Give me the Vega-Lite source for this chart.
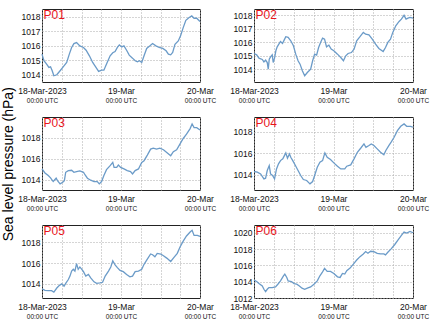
{
"$schema": "https://vega.github.io/schema/vega-lite/v6.json",
"padding": {"left": 2, "top": 8, "right": 5, "bottom": 2},
"title": {"text": "Sea level pressure (hPa)", "orient": "left", "anchor": "middle", "frame": "bounds", "fontSize": 14, "fontWeight": "normal", "font": "Liberation Sans", "color": "#000", "offset": -13, "baseline": "bottom", "dx": 0, "dy": 0},
"datasets": {"d": [
{"s":"P01","h":0,"p":1015.43},{"s":"P01","h":0.6,"p":1014.97},{"s":"P01","h":1.4,"p":1014.74},{"s":"P01","h":2.1,"p":1014.51},{"s":"P01","h":2.6,"p":1014.55},{"s":"P01","h":3.1,"p":1014.28},{"s":"P01","h":3.6,"p":1013.93},{"s":"P01","h":4.5,"p":1014.0},{"s":"P01","h":5.5,"p":1014.28},{"s":"P01","h":6.5,"p":1014.57},{"s":"P01","h":7.5,"p":1014.85},{"s":"P01","h":8.3,"p":1015.43},{"s":"P01","h":9.0,"p":1015.89},{"s":"P01","h":9.7,"p":1016.16},{"s":"P01","h":10.5,"p":1016.23},{"s":"P01","h":11.5,"p":1016.0},{"s":"P01","h":12.6,"p":1015.89},{"s":"P01","h":13.4,"p":1015.7},{"s":"P01","h":14.4,"p":1015.31},{"s":"P01","h":15.4,"p":1014.85},{"s":"P01","h":16.4,"p":1014.51},{"s":"P01","h":17.2,"p":1014.23},{"s":"P01","h":18.1,"p":1014.32},{"s":"P01","h":18.8,"p":1014.32},{"s":"P01","h":19.8,"p":1014.85},{"s":"P01","h":20.7,"p":1015.31},{"s":"P01","h":21.5,"p":1015.52},{"s":"P01","h":22.2,"p":1015.61},{"s":"P01","h":22.9,"p":1015.89},{"s":"P01","h":23.5,"p":1016.07},{"s":"P01","h":24.2,"p":1015.93},{"s":"P01","h":24.9,"p":1016.0},{"s":"P01","h":25.7,"p":1015.7},{"s":"P01","h":26.5,"p":1015.36},{"s":"P01","h":27.5,"p":1015.15},{"s":"P01","h":28.3,"p":1014.97},{"s":"P01","h":29.0,"p":1014.9},{"s":"P01","h":29.6,"p":1014.97},{"s":"P01","h":30.3,"p":1014.85},{"s":"P01","h":31.0,"p":1015.31},{"s":"P01","h":31.8,"p":1015.82},{"s":"P01","h":32.8,"p":1016.0},{"s":"P01","h":33.6,"p":1016.16},{"s":"P01","h":34.6,"p":1016.0},{"s":"P01","h":35.6,"p":1015.89},{"s":"P01","h":36.7,"p":1015.82},{"s":"P01","h":37.7,"p":1015.66},{"s":"P01","h":38.4,"p":1015.43},{"s":"P01","h":39.1,"p":1015.38},{"s":"P01","h":39.7,"p":1015.54},{"s":"P01","h":40.4,"p":1016.11},{"s":"P01","h":41.4,"p":1016.34},{"s":"P01","h":42.1,"p":1016.69},{"s":"P01","h":42.9,"p":1017.26},{"s":"P01","h":43.7,"p":1017.77},{"s":"P01","h":44.6,"p":1017.95},{"s":"P01","h":45.5,"p":1018.07},{"s":"P01","h":46.2,"p":1017.91},{"s":"P01","h":47.0,"p":1017.91},{"s":"P01","h":48,"p":1017.68},
{"s":"P02","h":0,"p":1015.16},{"s":"P02","h":0.8,"p":1015.06},{"s":"P02","h":1.5,"p":1014.81},{"s":"P02","h":2.5,"p":1014.72},{"s":"P02","h":3.0,"p":1014.54},{"s":"P02","h":3.5,"p":1014.67},{"s":"P02","h":4.0,"p":1014.49},{"s":"P02","h":4.3,"p":1014.0},{"s":"P02","h":4.6,"p":1014.74},{"s":"P02","h":5.0,"p":1014.91},{"s":"P02","h":5.5,"p":1015.06},{"s":"P02","h":5.8,"p":1014.49},{"s":"P02","h":6.2,"p":1014.81},{"s":"P02","h":6.6,"p":1015.36},{"s":"P02","h":7.0,"p":1015.65},{"s":"P02","h":7.5,"p":1015.85},{"s":"P02","h":8.0,"p":1016.05},{"s":"P02","h":8.6,"p":1015.9},{"s":"P02","h":9.1,"p":1016.15},{"s":"P02","h":9.6,"p":1016.4},{"s":"P02","h":10.3,"p":1016.35},{"s":"P02","h":11.1,"p":1016.1},{"s":"P02","h":11.9,"p":1015.73},{"s":"P02","h":12.6,"p":1015.11},{"s":"P02","h":13.3,"p":1014.62},{"s":"P02","h":13.9,"p":1014.37},{"s":"P02","h":14.6,"p":1013.88},{"s":"P02","h":15.3,"p":1013.51},{"s":"P02","h":16.1,"p":1013.75},{"s":"P02","h":17.1,"p":1014.0},{"s":"P02","h":17.7,"p":1014.62},{"s":"P02","h":18.3,"p":1015.11},{"s":"P02","h":18.9,"p":1015.04},{"s":"P02","h":19.5,"p":1015.6},{"s":"P02","h":20.1,"p":1015.98},{"s":"P02","h":20.7,"p":1016.3},{"s":"P02","h":21.3,"p":1016.22},{"s":"P02","h":21.9,"p":1015.65},{"s":"P02","h":22.6,"p":1015.78},{"s":"P02","h":23.3,"p":1015.48},{"s":"P02","h":24.1,"p":1015.36},{"s":"P02","h":25.2,"p":1015.11},{"s":"P02","h":26.2,"p":1014.86},{"s":"P02","h":27.0,"p":1014.62},{"s":"P02","h":27.7,"p":1014.99},{"s":"P02","h":28.4,"p":1015.16},{"s":"P02","h":29.4,"p":1015.23},{"s":"P02","h":30.2,"p":1015.48},{"s":"P02","h":31.0,"p":1016.1},{"s":"P02","h":32.0,"p":1016.4},{"s":"P02","h":33.0,"p":1016.72},{"s":"P02","h":33.7,"p":1016.59},{"s":"P02","h":34.7,"p":1016.54},{"s":"P02","h":35.7,"p":1016.22},{"s":"P02","h":36.7,"p":1015.85},{"s":"P02","h":37.7,"p":1015.53},{"s":"P02","h":39.0,"p":1015.31},{"s":"P02","h":39.7,"p":1015.6},{"s":"P02","h":40.4,"p":1015.98},{"s":"P02","h":41.2,"p":1016.22},{"s":"P02","h":41.9,"p":1016.72},{"s":"P02","h":42.8,"p":1017.21},{"s":"P02","h":43.8,"p":1017.53},{"s":"P02","h":44.5,"p":1017.7},{"s":"P02","h":45.3,"p":1017.98},{"s":"P02","h":45.9,"p":1017.7},{"s":"P02","h":46.5,"p":1017.78},{"s":"P02","h":47.1,"p":1017.83},{"s":"P02","h":48,"p":1017.78},
{"s":"P03","h":0,"p":1015.02},{"s":"P03","h":0.9,"p":1014.63},{"s":"P03","h":1.9,"p":1014.38},{"s":"P03","h":2.6,"p":1014.16},{"s":"P03","h":3.4,"p":1013.81},{"s":"P03","h":4.3,"p":1014.13},{"s":"P03","h":4.7,"p":1013.9},{"s":"P03","h":5.5,"p":1013.59},{"s":"P03","h":6.3,"p":1013.75},{"s":"P03","h":6.8,"p":1013.9},{"s":"P03","h":7.2,"p":1014.7},{"s":"P03","h":8.0,"p":1014.86},{"s":"P03","h":9.0,"p":1014.89},{"s":"P03","h":9.7,"p":1014.7},{"s":"P03","h":10.5,"p":1014.76},{"s":"P03","h":11.5,"p":1014.83},{"s":"P03","h":12.6,"p":1014.7},{"s":"P03","h":13.1,"p":1014.44},{"s":"P03","h":13.8,"p":1014.13},{"s":"P03","h":14.8,"p":1013.94},{"s":"P03","h":15.8,"p":1013.81},{"s":"P03","h":16.8,"p":1013.81},{"s":"P03","h":17.4,"p":1013.59},{"s":"P03","h":18.1,"p":1013.81},{"s":"P03","h":18.8,"p":1014.38},{"s":"P03","h":19.6,"p":1014.95},{"s":"P03","h":20.7,"p":1015.33},{"s":"P03","h":21.5,"p":1015.65},{"s":"P03","h":21.9,"p":1015.17},{"s":"P03","h":22.7,"p":1015.17},{"s":"P03","h":23.2,"p":1015.4},{"s":"P03","h":23.9,"p":1015.17},{"s":"P03","h":24.9,"p":1015.02},{"s":"P03","h":25.9,"p":1014.86},{"s":"P03","h":26.9,"p":1014.76},{"s":"P03","h":27.5,"p":1014.54},{"s":"P03","h":28.3,"p":1014.86},{"s":"P03","h":29.3,"p":1015.02},{"s":"P03","h":30.3,"p":1015.65},{"s":"P03","h":31.0,"p":1015.81},{"s":"P03","h":32.0,"p":1016.35},{"s":"P03","h":33.0,"p":1016.92},{"s":"P03","h":33.8,"p":1017.02},{"s":"P03","h":34.8,"p":1016.92},{"s":"P03","h":35.8,"p":1017.02},{"s":"P03","h":36.9,"p":1016.86},{"s":"P03","h":37.9,"p":1016.6},{"s":"P03","h":39.1,"p":1016.29},{"s":"P03","h":39.9,"p":1016.67},{"s":"P03","h":40.9,"p":1016.86},{"s":"P03","h":41.9,"p":1017.4},{"s":"P03","h":42.9,"p":1017.94},{"s":"P03","h":43.9,"p":1018.35},{"s":"P03","h":45.0,"p":1018.89},{"s":"P03","h":45.6,"p":1019.33},{"s":"P03","h":46.2,"p":1018.98},{"s":"P03","h":47.0,"p":1018.98},{"s":"P03","h":48,"p":1018.76},
{"s":"P04","h":0,"p":1014.31},{"s":"P04","h":1.0,"p":1014.25},{"s":"P04","h":2.0,"p":1014.09},{"s":"P04","h":3.0,"p":1013.63},{"s":"P04","h":3.5,"p":1013.69},{"s":"P04","h":4.0,"p":1014.4},{"s":"P04","h":4.6,"p":1014.86},{"s":"P04","h":5.0,"p":1014.09},{"s":"P04","h":5.6,"p":1013.94},{"s":"P04","h":6.2,"p":1013.63},{"s":"P04","h":6.8,"p":1014.55},{"s":"P04","h":7.4,"p":1015.02},{"s":"P04","h":8.0,"p":1015.32},{"s":"P04","h":8.7,"p":1015.48},{"s":"P04","h":9.3,"p":1015.85},{"s":"P04","h":9.6,"p":1016.03},{"s":"P04","h":10.1,"p":1015.54},{"s":"P04","h":10.7,"p":1015.94},{"s":"P04","h":11.1,"p":1015.63},{"s":"P04","h":11.7,"p":1015.32},{"s":"P04","h":12.5,"p":1014.86},{"s":"P04","h":13.3,"p":1014.4},{"s":"P04","h":14.1,"p":1013.94},{"s":"P04","h":14.9,"p":1013.57},{"s":"P04","h":15.9,"p":1013.48},{"s":"P04","h":16.9,"p":1013.17},{"s":"P04","h":17.7,"p":1013.38},{"s":"P04","h":18.3,"p":1013.94},{"s":"P04","h":19.1,"p":1014.71},{"s":"P04","h":19.9,"p":1015.17},{"s":"P04","h":20.7,"p":1015.32},{"s":"P04","h":21.4,"p":1016.03},{"s":"P04","h":22.1,"p":1015.63},{"s":"P04","h":23.1,"p":1015.42},{"s":"P04","h":24.1,"p":1015.11},{"s":"P04","h":25.2,"p":1014.8},{"s":"P04","h":26.2,"p":1014.55},{"s":"P04","h":27.4,"p":1014.55},{"s":"P04","h":28.0,"p":1014.8},{"s":"P04","h":29.2,"p":1014.92},{"s":"P04","h":30.2,"p":1015.48},{"s":"P04","h":31.2,"p":1016.09},{"s":"P04","h":32.2,"p":1016.46},{"s":"P04","h":33.2,"p":1016.86},{"s":"P04","h":33.8,"p":1016.55},{"s":"P04","h":34.7,"p":1016.71},{"s":"P04","h":35.4,"p":1016.86},{"s":"P04","h":36.2,"p":1016.71},{"s":"P04","h":37.2,"p":1016.4},{"s":"P04","h":38.2,"p":1016.09},{"s":"P04","h":39.2,"p":1015.85},{"s":"P04","h":39.8,"p":1016.25},{"s":"P04","h":40.7,"p":1016.71},{"s":"P04","h":41.4,"p":1017.02},{"s":"P04","h":42.3,"p":1017.48},{"s":"P04","h":43.3,"p":1018.09},{"s":"P04","h":44.3,"p":1018.49},{"s":"P04","h":45.3,"p":1018.71},{"s":"P04","h":46.1,"p":1018.49},{"s":"P04","h":47.3,"p":1018.49},{"s":"P04","h":48,"p":1018.4},
{"s":"P05","h":0,"p":1013.5},{"s":"P05","h":0.9,"p":1013.34},{"s":"P05","h":1.9,"p":1013.31},{"s":"P05","h":2.9,"p":1013.31},{"s":"P05","h":3.6,"p":1013.17},{"s":"P05","h":4.5,"p":1013.57},{"s":"P05","h":5.3,"p":1013.83},{"s":"P05","h":6.0,"p":1013.97},{"s":"P05","h":6.7,"p":1013.74},{"s":"P05","h":7.3,"p":1014.07},{"s":"P05","h":8.0,"p":1014.4},{"s":"P05","h":8.5,"p":1014.73},{"s":"P05","h":9.0,"p":1015.22},{"s":"P05","h":9.5,"p":1015.39},{"s":"P05","h":10.0,"p":1015.22},{"s":"P05","h":10.5,"p":1015.95},{"s":"P05","h":11.0,"p":1015.39},{"s":"P05","h":11.5,"p":1015.62},{"s":"P05","h":12.1,"p":1015.39},{"s":"P05","h":12.6,"p":1015.16},{"s":"P05","h":13.3,"p":1014.73},{"s":"P05","h":14.1,"p":1014.89},{"s":"P05","h":14.8,"p":1014.56},{"s":"P05","h":15.8,"p":1014.17},{"s":"P05","h":16.6,"p":1014.03},{"s":"P05","h":17.6,"p":1014.07},{"s":"P05","h":18.4,"p":1014.13},{"s":"P05","h":19.2,"p":1014.73},{"s":"P05","h":20.2,"p":1015.22},{"s":"P05","h":20.9,"p":1015.62},{"s":"P05","h":21.5,"p":1016.21},{"s":"P05","h":22.2,"p":1015.82},{"s":"P05","h":22.9,"p":1015.55},{"s":"P05","h":23.7,"p":1015.29},{"s":"P05","h":24.7,"p":1015.16},{"s":"P05","h":25.7,"p":1014.89},{"s":"P05","h":26.7,"p":1014.66},{"s":"P05","h":27.5,"p":1014.73},{"s":"P05","h":28.3,"p":1015.16},{"s":"P05","h":29.3,"p":1015.22},{"s":"P05","h":30.3,"p":1015.39},{"s":"P05","h":31.0,"p":1015.88},{"s":"P05","h":32.0,"p":1016.38},{"s":"P05","h":33.0,"p":1016.88},{"s":"P05","h":33.6,"p":1016.81},{"s":"P05","h":34.3,"p":1016.61},{"s":"P05","h":35.0,"p":1016.94},{"s":"P05","h":36.1,"p":1016.88},{"s":"P05","h":36.9,"p":1016.71},{"s":"P05","h":37.9,"p":1016.48},{"s":"P05","h":39.1,"p":1016.15},{"s":"P05","h":40.1,"p":1016.55},{"s":"P05","h":41.1,"p":1016.94},{"s":"P05","h":41.9,"p":1017.54},{"s":"P05","h":42.9,"p":1018.13},{"s":"P05","h":43.9,"p":1018.63},{"s":"P05","h":45.0,"p":1019.02},{"s":"P05","h":45.6,"p":1019.19},{"s":"P05","h":46.2,"p":1018.69},{"s":"P05","h":47.2,"p":1018.69},{"s":"P05","h":48,"p":1018.6},
{"s":"P06","h":0,"p":1014.19},{"s":"P06","h":0.8,"p":1014.02},{"s":"P06","h":1.5,"p":1013.77},{"s":"P06","h":2.5,"p":1013.48},{"s":"P06","h":3.0,"p":1013.07},{"s":"P06","h":3.5,"p":1012.78},{"s":"P06","h":4.0,"p":1013.07},{"s":"P06","h":4.5,"p":1013.28},{"s":"P06","h":5.5,"p":1013.28},{"s":"P06","h":6.5,"p":1013.36},{"s":"P06","h":7.2,"p":1013.69},{"s":"P06","h":8.0,"p":1014.1},{"s":"P06","h":8.9,"p":1014.72},{"s":"P06","h":9.3,"p":1014.93},{"s":"P06","h":9.9,"p":1014.52},{"s":"P06","h":10.3,"p":1014.1},{"s":"P06","h":11.3,"p":1014.02},{"s":"P06","h":12.1,"p":1013.77},{"s":"P06","h":12.9,"p":1013.69},{"s":"P06","h":13.7,"p":1013.48},{"s":"P06","h":14.5,"p":1013.2},{"s":"P06","h":15.3,"p":1013.07},{"s":"P06","h":16.1,"p":1013.2},{"s":"P06","h":17.1,"p":1013.36},{"s":"P06","h":18.1,"p":1013.69},{"s":"P06","h":19.1,"p":1014.1},{"s":"P06","h":19.9,"p":1014.72},{"s":"P06","h":20.6,"p":1015.13},{"s":"P06","h":21.3,"p":1015.63},{"s":"P06","h":22.1,"p":1015.26},{"s":"P06","h":23.1,"p":1015.26},{"s":"P06","h":24.1,"p":1015.01},{"s":"P06","h":25.2,"p":1014.6},{"s":"P06","h":26.0,"p":1014.52},{"s":"P06","h":26.7,"p":1015.01},{"s":"P06","h":27.4,"p":1014.93},{"s":"P06","h":28.0,"p":1015.34},{"s":"P06","h":29.0,"p":1015.67},{"s":"P06","h":30.0,"p":1016.16},{"s":"P06","h":31.0,"p":1016.66},{"s":"P06","h":32.0,"p":1017.07},{"s":"P06","h":33.0,"p":1017.4},{"s":"P06","h":33.7,"p":1017.69},{"s":"P06","h":34.4,"p":1017.48},{"s":"P06","h":35.2,"p":1017.73},{"s":"P06","h":36.2,"p":1017.69},{"s":"P06","h":37.2,"p":1017.48},{"s":"P06","h":38.2,"p":1017.4},{"s":"P06","h":39.2,"p":1017.4},{"s":"P06","h":39.7,"p":1017.28},{"s":"P06","h":40.4,"p":1017.61},{"s":"P06","h":41.4,"p":1018.02},{"s":"P06","h":42.5,"p":1018.56},{"s":"P06","h":43.5,"p":1019.13},{"s":"P06","h":44.5,"p":1019.67},{"s":"P06","h":45.3,"p":1020.08},{"s":"P06","h":46.1,"p":1019.96},{"s":"P06","h":47.1,"p":1020.16},{"s":"P06","h":48,"p":1020.0}
]},
"spacing": 12,
"vconcat": [
{"hconcat": [
{"data":{"name":"d"},"transform":[{"filter":"datum.s=='P01'"}],"width":158,"height":73,
"title":{"text":"P01"},
"encoding":{"y":{"field":"p","type":"quantitative","scale":{"domain":[1013.5,1018.55],"nice":false,"zero":false},"axis":{"title":null,"values":[1014,1015,1016,1017,1018],"format":"d"}}},
"layer":[
{"mark":{"type":"line","color":"#6b9bc8","strokeWidth":1.3},
"encoding":{"x":{"field":"h","type":"quantitative","scale":{"domain":[0,48],"nice":false,"zero":false},"axis":{"title":null,"values":[0,6,12,18,24,30,36,42,48],"grid":true,"labelExpr":"datum.value==0?'18-Mar-2023':datum.value==24?'19-Mar':datum.value==48?'20-Mar':''","labelPadding":4}}}},
{"mark":{"type":"line","opacity":0},
"encoding":{"x":{"field":"h","type":"quantitative","axis":{"title":null,"orient":"bottom","values":[0,24,48],"grid":false,"labelExpr":"'00:00 UTC'","labelFontSize":6.5,"labelPadding":15}}}}
],"resolve":{"axis":{"x":"independent"}}},
{"data":{"name":"d"},"transform":[{"filter":"datum.s=='P02'"}],"width":159,"height":73,
"title":{"text":"P02"},
"encoding":{"y":{"field":"p","type":"quantitative","scale":{"domain":[1013.05,1018.45],"nice":false,"zero":false},"axis":{"title":null,"values":[1014,1015,1016,1017,1018],"format":"d"}}},
"layer":[
{"mark":{"type":"line","color":"#6b9bc8","strokeWidth":1.3},
"encoding":{"x":{"field":"h","type":"quantitative","scale":{"domain":[0,48],"nice":false,"zero":false},"axis":{"title":null,"values":[0,6,12,18,24,30,36,42,48],"grid":true,"labelExpr":"datum.value==0?'18-Mar-2023':datum.value==24?'19-Mar':datum.value==48?'20-Mar':''","labelPadding":4}}}},
{"mark":{"type":"line","opacity":0},
"encoding":{"x":{"field":"h","type":"quantitative","axis":{"title":null,"orient":"bottom","values":[0,24,48],"grid":false,"labelExpr":"'00:00 UTC'","labelFontSize":6.5,"labelPadding":15}}}}
],"resolve":{"axis":{"x":"independent"}}}
],"spacing":12},
{"hconcat": [
{"data":{"name":"d"},"transform":[{"filter":"datum.s=='P03'"}],"width":158,"height":73,
"title":{"text":"P03"},
"encoding":{"y":{"field":"p","type":"quantitative","scale":{"domain":[1013.0,1020.0],"nice":false,"zero":false},"axis":{"title":null,"values":[1014,1016,1018],"format":"d"}}},
"layer":[
{"mark":{"type":"line","color":"#6b9bc8","strokeWidth":1.3},
"encoding":{"x":{"field":"h","type":"quantitative","scale":{"domain":[0,48],"nice":false,"zero":false},"axis":{"title":null,"values":[0,6,12,18,24,30,36,42,48],"grid":true,"labelExpr":"datum.value==0?'18-Mar-2023':datum.value==24?'19-Mar':datum.value==48?'20-Mar':''","labelPadding":4}}}},
{"mark":{"type":"line","opacity":0},
"encoding":{"x":{"field":"h","type":"quantitative","axis":{"title":null,"orient":"bottom","values":[0,24,48],"grid":false,"labelExpr":"'00:00 UTC'","labelFontSize":6.5,"labelPadding":15}}}}
],"resolve":{"axis":{"x":"independent"}}},
{"data":{"name":"d"},"transform":[{"filter":"datum.s=='P04'"}],"width":159,"height":73,
"title":{"text":"P04"},
"encoding":{"y":{"field":"p","type":"quantitative","scale":{"domain":[1012.6,1019.35],"nice":false,"zero":false},"axis":{"title":null,"values":[1014,1016,1018],"format":"d"}}},
"layer":[
{"mark":{"type":"line","color":"#6b9bc8","strokeWidth":1.3},
"encoding":{"x":{"field":"h","type":"quantitative","scale":{"domain":[0,48],"nice":false,"zero":false},"axis":{"title":null,"values":[0,6,12,18,24,30,36,42,48],"grid":true,"labelExpr":"datum.value==0?'18-Mar-2023':datum.value==24?'19-Mar':datum.value==48?'20-Mar':''","labelPadding":4}}}},
{"mark":{"type":"line","opacity":0},
"encoding":{"x":{"field":"h","type":"quantitative","axis":{"title":null,"orient":"bottom","values":[0,24,48],"grid":false,"labelExpr":"'00:00 UTC'","labelFontSize":6.5,"labelPadding":15}}}}
],"resolve":{"axis":{"x":"independent"}}}
],"spacing":12},
{"hconcat": [
{"data":{"name":"d"},"transform":[{"filter":"datum.s=='P05'"}],"width":158,"height":73,
"title":{"text":"P05"},
"encoding":{"y":{"field":"p","type":"quantitative","scale":{"domain":[1012.6,1019.7],"nice":false,"zero":false},"axis":{"title":null,"values":[1014,1016,1018],"format":"d"}}},
"layer":[
{"mark":{"type":"line","color":"#6b9bc8","strokeWidth":1.3},
"encoding":{"x":{"field":"h","type":"quantitative","scale":{"domain":[0,48],"nice":false,"zero":false},"axis":{"title":null,"values":[0,6,12,18,24,30,36,42,48],"grid":true,"labelExpr":"datum.value==0?'18-Mar-2023':datum.value==24?'19-Mar':datum.value==48?'20-Mar':''","labelPadding":4}}}},
{"mark":{"type":"line","opacity":0},
"encoding":{"x":{"field":"h","type":"quantitative","axis":{"title":null,"orient":"bottom","values":[0,24,48],"grid":false,"labelExpr":"'00:00 UTC'","labelFontSize":6.5,"labelPadding":15}}}}
],"resolve":{"axis":{"x":"independent"}}},
{"data":{"name":"d"},"transform":[{"filter":"datum.s=='P06'"}],"width":159,"height":73,
"title":{"text":"P06"},
"encoding":{"y":{"field":"p","type":"quantitative","scale":{"domain":[1012.0,1020.95],"nice":false,"zero":false},"axis":{"title":null,"values":[1012,1014,1016,1018,1020],"format":"d"}}},
"layer":[
{"mark":{"type":"line","color":"#6b9bc8","strokeWidth":1.3},
"encoding":{"x":{"field":"h","type":"quantitative","scale":{"domain":[0,48],"nice":false,"zero":false},"axis":{"title":null,"values":[0,6,12,18,24,30,36,42,48],"grid":true,"labelExpr":"datum.value==0?'18-Mar-2023':datum.value==24?'19-Mar':datum.value==48?'20-Mar':''","labelPadding":4}}}},
{"mark":{"type":"line","opacity":0},
"encoding":{"x":{"field":"h","type":"quantitative","axis":{"title":null,"orient":"bottom","values":[0,24,48],"grid":false,"labelExpr":"'00:00 UTC'","labelFontSize":6.5,"labelPadding":15}}}}
],"resolve":{"axis":{"x":"independent"}}}
],"spacing":12}
],
"config": {
"font": "Liberation Sans",
"view": {"stroke": "#222", "strokeWidth": 1},
"axis": {"labelFont": "Liberation Sans", "labelFontSize": 8.5, "labelColor": "#111", "ticks": false, "domain": false, "gridColor": "#aaa", "gridDash": [1, 2], "gridOpacity": 1, "gridWidth": 1, "labelPadding": 2, "labelFlush": false, "labelOverlap": false},
"title": {"orient": "top", "anchor": "start", "frame": "group", "color": "#e8141b", "fontSize": 12, "fontWeight": "normal", "font": "Liberation Sans", "baseline": "alphabetic", "offset": 0, "dx": 1.5, "dy": 17}
}
}
